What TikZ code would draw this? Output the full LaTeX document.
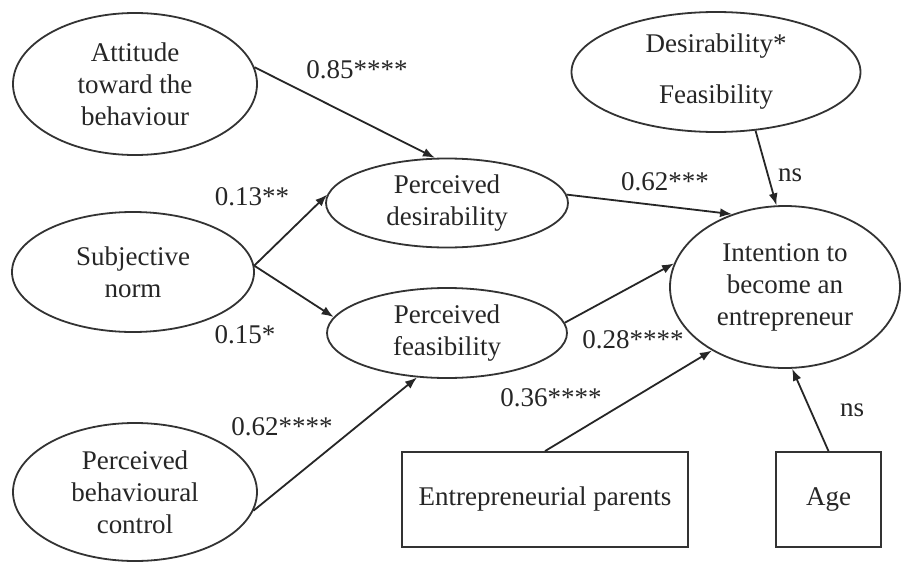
\documentclass[tikz,border=0pt]{standalone}
\usepackage{fontspec}
\setmainfont{Liberation Serif}
\usetikzlibrary{shapes.geometric,arrows.meta}
\begin{document}
\begin{tikzpicture}[x=1pt,y=-1pt,
  every node/.style={font=\fontsize{27}{32}\selectfont, text=black!85},
  ell/.style={ellipse, draw=black!80, line width=1.8pt, inner sep=0pt, align=center},
  box/.style={rectangle, draw=black!80, line width=1.8pt, inner sep=0pt},
  arr/.style={draw=black!85, line width=1.8pt, -{Latex[length=12pt,width=9pt]}},
  lab/.style={inner sep=0pt}]
\useasboundingbox (0,0) rectangle (903,562);
\fill[white] (0,0) rectangle (903,562);
% nodes
\node[ell, minimum width=244pt, minimum height=142pt] (att) at (135,84) {Attitude\\toward the\\behaviour};
\node[ell, minimum width=242pt, minimum height=120pt] (sn) at (133,272) {Subjective\\norm};
\node[ell, minimum width=244pt, minimum height=138pt] (pbc) at (135,492) {Perceived\\behavioural\\control};
\node[ell, minimum width=242pt, minimum height=89pt] (pd) at (447,203) {Perceived\\desirability};
\node[ell, minimum width=240pt, minimum height=90pt] (pf) at (447,333) {Perceived\\feasibility};
\node[ell, minimum width=289pt, minimum height=120pt] (df) at (716,72) {Desirability*\\[19pt]Feasibility};
\node[ell, minimum width=230pt, minimum height=162pt] (int) at (785,287) {Intention to\\become an\\entrepreneur};
\node[box, minimum width=286pt, minimum height=95pt] (par) at (545,499.5) {Entrepreneurial parents};
\node[box, minimum width=105pt, minimum height=95pt] (age) at (828.5,499.5) {Age};
% connectors
\draw[arr] (att.8) -- (pd.105);
\draw[arr] (sn.3) -- (pd.176);
\draw[arr] (sn.3) -- (pf.172);
\draw[arr] (pbc.-9) -- (pf.236);
\draw[arr] (pd.4) -- (int.126);
\draw[arr] (pf.5) -- (int.168);
\draw[arr] (par.north) -- (int.221);
\draw[arr] (age.north) -- (int.275);
\draw[arr] (df.304) -- (int.96);
% labels
\node[lab] (l1) at (357,70) {0.85****};
\node[lab] (l2) at (252,197) {0.13**};
\node[lab] (l3) at (245,335) {0.15*};
\node[lab] (l4) at (282,427) {0.62****};
\node[lab] (l5) at (665,182) {0.62***};
\node[lab] (l6) at (790,175) {ns};
\node[lab] (l7) at (633,340) {0.28****};
\node[lab] (l8) at (551,398) {0.36****};
\node[lab] (l9) at (852,410) {ns};
\end{tikzpicture}
\end{document}
